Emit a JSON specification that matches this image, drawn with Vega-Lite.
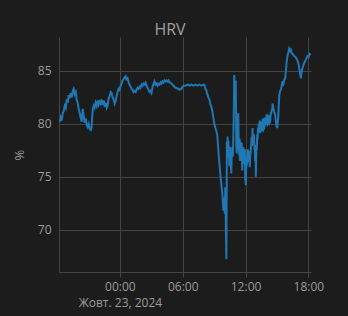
{
  "$schema": "https://vega.github.io/schema/vega-lite/v6.json",
  "autosize": {"type": "none"},
  "width": 252,
  "height": 235,
  "padding": {"left": 59, "top": 37, "right": 37, "bottom": 44},
  "background": "#1c1c1c",
  "title": {"text": "HRV", "font": "Open Sans", "fontSize": 16, "fontWeight": "normal", "color": "#a0a0a0", "anchor": "middle", "frame": "group", "dx": -15, "dy": 18, "offset": 4, "baseline": "alphabetic"},
  "config": {"view": {"stroke": null}, "font": "Open Sans"},
  "data": {"values": [
    {"t": "2024-10-22T18:15", "v": 80.2}, {"t": "2024-10-22T18:21", "v": 80.6}, {"t": "2024-10-22T18:27", "v": 80.3},
    {"t": "2024-10-22T18:32", "v": 81.0}, {"t": "2024-10-22T18:38", "v": 81.2}, {"t": "2024-10-22T18:44", "v": 81.7},
    {"t": "2024-10-22T18:50", "v": 81.5}, {"t": "2024-10-22T18:55", "v": 82.3}, {"t": "2024-10-22T19:01", "v": 82.0},
    {"t": "2024-10-22T19:07", "v": 82.7}, {"t": "2024-10-22T19:12", "v": 82.4}, {"t": "2024-10-22T19:18", "v": 82.9},
    {"t": "2024-10-22T19:24", "v": 82.5}, {"t": "2024-10-22T19:30", "v": 83.1}, {"t": "2024-10-22T19:35", "v": 83.3},
    {"t": "2024-10-22T19:41", "v": 82.8}, {"t": "2024-10-22T19:47", "v": 83.0}, {"t": "2024-10-22T19:52", "v": 82.3},
    {"t": "2024-10-22T19:58", "v": 82.0}, {"t": "2024-10-22T20:04", "v": 81.4}, {"t": "2024-10-22T20:10", "v": 81.0},
    {"t": "2024-10-22T20:15", "v": 80.6}, {"t": "2024-10-22T20:21", "v": 80.2}, {"t": "2024-10-22T20:27", "v": 81.4},
    {"t": "2024-10-22T20:33", "v": 80.7}, {"t": "2024-10-22T20:38", "v": 80.1}, {"t": "2024-10-22T20:44", "v": 80.5},
    {"t": "2024-10-22T20:50", "v": 79.9}, {"t": "2024-10-22T20:55", "v": 79.7}, {"t": "2024-10-22T21:01", "v": 80.0},
    {"t": "2024-10-22T21:07", "v": 79.5}, {"t": "2024-10-22T21:13", "v": 79.4}, {"t": "2024-10-22T21:18", "v": 79.7},
    {"t": "2024-10-22T21:24", "v": 81.4}, {"t": "2024-10-22T21:30", "v": 81.7}, {"t": "2024-10-22T21:35", "v": 81.5},
    {"t": "2024-10-22T21:41", "v": 82.0}, {"t": "2024-10-22T21:47", "v": 81.7}, {"t": "2024-10-22T21:53", "v": 82.2},
    {"t": "2024-10-22T21:58", "v": 81.8}, {"t": "2024-10-22T22:04", "v": 82.1}, {"t": "2024-10-22T22:10", "v": 81.9},
    {"t": "2024-10-22T22:15", "v": 82.3}, {"t": "2024-10-22T22:21", "v": 81.8}, {"t": "2024-10-22T22:27", "v": 82.2},
    {"t": "2024-10-22T22:33", "v": 81.6}, {"t": "2024-10-22T22:38", "v": 82.0}, {"t": "2024-10-22T22:44", "v": 81.5},
    {"t": "2024-10-22T22:50", "v": 81.7}, {"t": "2024-10-22T22:55", "v": 82.4}, {"t": "2024-10-22T23:01", "v": 82.6},
    {"t": "2024-10-22T23:07", "v": 83.0}, {"t": "2024-10-22T23:13", "v": 82.9}, {"t": "2024-10-22T23:18", "v": 82.5},
    {"t": "2024-10-22T23:24", "v": 82.3}, {"t": "2024-10-22T23:30", "v": 81.9}, {"t": "2024-10-22T23:35", "v": 82.1},
    {"t": "2024-10-22T23:41", "v": 82.6}, {"t": "2024-10-22T23:47", "v": 83.0}, {"t": "2024-10-22T23:53", "v": 83.3},
    {"t": "2024-10-22T23:58", "v": 83.2}, {"t": "2024-10-23T00:04", "v": 83.6}, {"t": "2024-10-23T00:10", "v": 83.8},
    {"t": "2024-10-23T00:15", "v": 84.1}, {"t": "2024-10-23T00:21", "v": 84.2}, {"t": "2024-10-23T00:27", "v": 84.4},
    {"t": "2024-10-23T00:33", "v": 84.5}, {"t": "2024-10-23T00:38", "v": 84.2}, {"t": "2024-10-23T00:44", "v": 84.3},
    {"t": "2024-10-23T00:50", "v": 83.9}, {"t": "2024-10-23T00:55", "v": 83.7}, {"t": "2024-10-23T01:01", "v": 83.5},
    {"t": "2024-10-23T01:07", "v": 83.3}, {"t": "2024-10-23T01:13", "v": 83.2}, {"t": "2024-10-23T01:18", "v": 83.0},
    {"t": "2024-10-23T01:24", "v": 83.1}, {"t": "2024-10-23T01:30", "v": 83.0}, {"t": "2024-10-23T01:35", "v": 83.2},
    {"t": "2024-10-23T01:41", "v": 83.4}, {"t": "2024-10-23T01:47", "v": 83.3}, {"t": "2024-10-23T01:53", "v": 83.5},
    {"t": "2024-10-23T01:58", "v": 83.4}, {"t": "2024-10-23T02:04", "v": 83.7}, {"t": "2024-10-23T02:10", "v": 83.6},
    {"t": "2024-10-23T02:15", "v": 83.8}, {"t": "2024-10-23T02:21", "v": 83.7}, {"t": "2024-10-23T02:27", "v": 83.9},
    {"t": "2024-10-23T02:33", "v": 83.6}, {"t": "2024-10-23T02:38", "v": 83.4}, {"t": "2024-10-23T02:44", "v": 83.2},
    {"t": "2024-10-23T02:50", "v": 83.0}, {"t": "2024-10-23T02:55", "v": 83.1}, {"t": "2024-10-23T03:01", "v": 82.9},
    {"t": "2024-10-23T03:07", "v": 83.5}, {"t": "2024-10-23T03:13", "v": 83.8}, {"t": "2024-10-23T03:18", "v": 84.0},
    {"t": "2024-10-23T03:24", "v": 83.7}, {"t": "2024-10-23T03:30", "v": 83.8}, {"t": "2024-10-23T03:35", "v": 83.6},
    {"t": "2024-10-23T03:41", "v": 83.8}, {"t": "2024-10-23T03:47", "v": 83.7}, {"t": "2024-10-23T03:53", "v": 83.9},
    {"t": "2024-10-23T03:58", "v": 83.8}, {"t": "2024-10-23T04:04", "v": 84.0}, {"t": "2024-10-23T04:10", "v": 83.9},
    {"t": "2024-10-23T04:15", "v": 84.1}, {"t": "2024-10-23T04:21", "v": 84.0}, {"t": "2024-10-23T04:27", "v": 84.1},
    {"t": "2024-10-23T04:33", "v": 84.0}, {"t": "2024-10-23T04:38", "v": 84.1}, {"t": "2024-10-23T04:44", "v": 83.9},
    {"t": "2024-10-23T04:50", "v": 83.9}, {"t": "2024-10-23T04:55", "v": 83.8}, {"t": "2024-10-23T05:01", "v": 83.7},
    {"t": "2024-10-23T05:07", "v": 83.6}, {"t": "2024-10-23T05:13", "v": 83.5}, {"t": "2024-10-23T05:18", "v": 83.4},
    {"t": "2024-10-23T05:24", "v": 83.4}, {"t": "2024-10-23T05:30", "v": 83.3}, {"t": "2024-10-23T05:35", "v": 83.3},
    {"t": "2024-10-23T05:41", "v": 83.2}, {"t": "2024-10-23T05:47", "v": 83.3}, {"t": "2024-10-23T05:53", "v": 83.3},
    {"t": "2024-10-23T05:58", "v": 83.5}, {"t": "2024-10-23T06:04", "v": 83.6}, {"t": "2024-10-23T06:10", "v": 83.6},
    {"t": "2024-10-23T06:15", "v": 83.6}, {"t": "2024-10-23T06:27", "v": 83.7}, {"t": "2024-10-23T06:38", "v": 83.6},
    {"t": "2024-10-23T06:50", "v": 83.7}, {"t": "2024-10-23T07:01", "v": 83.6}, {"t": "2024-10-23T07:13", "v": 83.7},
    {"t": "2024-10-23T07:24", "v": 83.6}, {"t": "2024-10-23T07:35", "v": 83.7}, {"t": "2024-10-23T07:47", "v": 83.6},
    {"t": "2024-10-23T07:58", "v": 83.7}, {"t": "2024-10-23T08:04", "v": 83.7}, {"t": "2024-10-23T08:10", "v": 83.3},
    {"t": "2024-10-23T08:15", "v": 83.2}, {"t": "2024-10-23T08:21", "v": 82.8}, {"t": "2024-10-23T08:27", "v": 82.5},
    {"t": "2024-10-23T08:33", "v": 82.3}, {"t": "2024-10-23T08:38", "v": 81.9}, {"t": "2024-10-23T08:44", "v": 81.6},
    {"t": "2024-10-23T08:50", "v": 81.2}, {"t": "2024-10-23T08:55", "v": 80.6}, {"t": "2024-10-23T09:01", "v": 80.0},
    {"t": "2024-10-23T09:07", "v": 79.6}, {"t": "2024-10-23T09:13", "v": 79.3}, {"t": "2024-10-23T09:18", "v": 78.9},
    {"t": "2024-10-23T09:24", "v": 77.5}, {"t": "2024-10-23T09:30", "v": 76.3}, {"t": "2024-10-23T09:35", "v": 75.3},
    {"t": "2024-10-23T09:41", "v": 74.3}, {"t": "2024-10-23T09:47", "v": 73.4}, {"t": "2024-10-23T09:53", "v": 71.8},
    {"t": "2024-10-23T09:58", "v": 73.0}, {"t": "2024-10-23T10:01", "v": 71.5}, {"t": "2024-10-23T10:04", "v": 74.0},
    {"t": "2024-10-23T10:07", "v": 70.5}, {"t": "2024-10-23T10:10", "v": 67.2}, {"t": "2024-10-23T10:13", "v": 78.3},
    {"t": "2024-10-23T10:15", "v": 77.0}, {"t": "2024-10-23T10:17", "v": 78.8}, {"t": "2024-10-23T10:19", "v": 76.8},
    {"t": "2024-10-23T10:21", "v": 78.4}, {"t": "2024-10-23T10:24", "v": 77.5}, {"t": "2024-10-23T10:27", "v": 76.0},
    {"t": "2024-10-23T10:30", "v": 77.8}, {"t": "2024-10-23T10:33", "v": 77.2}, {"t": "2024-10-23T10:36", "v": 76.2},
    {"t": "2024-10-23T10:38", "v": 75.3}, {"t": "2024-10-23T10:41", "v": 77.0}, {"t": "2024-10-23T10:44", "v": 77.8},
    {"t": "2024-10-23T10:47", "v": 76.9}, {"t": "2024-10-23T10:50", "v": 78.6}, {"t": "2024-10-23T10:53", "v": 81.5},
    {"t": "2024-10-23T10:55", "v": 84.6}, {"t": "2024-10-23T10:58", "v": 83.5}, {"t": "2024-10-23T11:01", "v": 83.0},
    {"t": "2024-10-23T11:04", "v": 84.1}, {"t": "2024-10-23T11:07", "v": 78.0}, {"t": "2024-10-23T11:10", "v": 77.2},
    {"t": "2024-10-23T11:13", "v": 80.7}, {"t": "2024-10-23T11:16", "v": 79.3}, {"t": "2024-10-23T11:18", "v": 81.0},
    {"t": "2024-10-23T11:21", "v": 78.0}, {"t": "2024-10-23T11:24", "v": 77.0}, {"t": "2024-10-23T11:26", "v": 78.6},
    {"t": "2024-10-23T11:28", "v": 76.5}, {"t": "2024-10-23T11:31", "v": 78.3}, {"t": "2024-10-23T11:33", "v": 78.0},
    {"t": "2024-10-23T11:35", "v": 77.0}, {"t": "2024-10-23T11:38", "v": 78.2}, {"t": "2024-10-23T11:41", "v": 75.6},
    {"t": "2024-10-23T11:44", "v": 77.0}, {"t": "2024-10-23T11:47", "v": 77.8}, {"t": "2024-10-23T11:50", "v": 76.2},
    {"t": "2024-10-23T11:53", "v": 76.8}, {"t": "2024-10-23T11:56", "v": 77.6}, {"t": "2024-10-23T11:58", "v": 75.0},
    {"t": "2024-10-23T12:02", "v": 74.2}, {"t": "2024-10-23T12:04", "v": 76.6}, {"t": "2024-10-23T12:07", "v": 76.0},
    {"t": "2024-10-23T12:10", "v": 77.2}, {"t": "2024-10-23T12:13", "v": 77.6}, {"t": "2024-10-23T12:16", "v": 76.4},
    {"t": "2024-10-23T12:18", "v": 76.5}, {"t": "2024-10-23T12:21", "v": 77.4}, {"t": "2024-10-23T12:24", "v": 75.9},
    {"t": "2024-10-23T12:27", "v": 77.0}, {"t": "2024-10-23T12:30", "v": 77.5}, {"t": "2024-10-23T12:33", "v": 78.2},
    {"t": "2024-10-23T12:35", "v": 78.8}, {"t": "2024-10-23T12:38", "v": 77.9}, {"t": "2024-10-23T12:40", "v": 79.6},
    {"t": "2024-10-23T12:42", "v": 78.6}, {"t": "2024-10-23T12:44", "v": 78.5}, {"t": "2024-10-23T12:47", "v": 79.0},
    {"t": "2024-10-23T12:50", "v": 78.1}, {"t": "2024-10-23T12:53", "v": 77.4}, {"t": "2024-10-23T12:55", "v": 76.5},
    {"t": "2024-10-23T12:57", "v": 77.8}, {"t": "2024-10-23T12:59", "v": 75.0}, {"t": "2024-10-23T13:02", "v": 78.0},
    {"t": "2024-10-23T13:04", "v": 77.5}, {"t": "2024-10-23T13:07", "v": 79.0}, {"t": "2024-10-23T13:09", "v": 78.5},
    {"t": "2024-10-23T13:11", "v": 79.6}, {"t": "2024-10-23T13:13", "v": 79.2}, {"t": "2024-10-23T13:16", "v": 80.0},
    {"t": "2024-10-23T13:18", "v": 79.7}, {"t": "2024-10-23T13:21", "v": 80.3}, {"t": "2024-10-23T13:24", "v": 79.1},
    {"t": "2024-10-23T13:27", "v": 80.2}, {"t": "2024-10-23T13:30", "v": 80.0}, {"t": "2024-10-23T13:32", "v": 79.4},
    {"t": "2024-10-23T13:35", "v": 79.3}, {"t": "2024-10-23T13:38", "v": 80.5}, {"t": "2024-10-23T13:41", "v": 80.2},
    {"t": "2024-10-23T13:44", "v": 79.5}, {"t": "2024-10-23T13:47", "v": 79.6}, {"t": "2024-10-23T13:50", "v": 80.6},
    {"t": "2024-10-23T13:53", "v": 80.4}, {"t": "2024-10-23T13:56", "v": 79.9}, {"t": "2024-10-23T13:58", "v": 80.0},
    {"t": "2024-10-23T14:01", "v": 80.9}, {"t": "2024-10-23T14:04", "v": 80.7}, {"t": "2024-10-23T14:07", "v": 80.0},
    {"t": "2024-10-23T14:10", "v": 80.1}, {"t": "2024-10-23T14:12", "v": 80.8}, {"t": "2024-10-23T14:15", "v": 80.6},
    {"t": "2024-10-23T14:18", "v": 80.1}, {"t": "2024-10-23T14:21", "v": 80.2}, {"t": "2024-10-23T14:24", "v": 81.0},
    {"t": "2024-10-23T14:27", "v": 81.0}, {"t": "2024-10-23T14:33", "v": 81.5}, {"t": "2024-10-23T14:35", "v": 81.9},
    {"t": "2024-10-23T14:41", "v": 81.3}, {"t": "2024-10-23T14:50", "v": 80.8}, {"t": "2024-10-23T14:55", "v": 80.0},
    {"t": "2024-10-23T15:01", "v": 79.6}, {"t": "2024-10-23T15:07", "v": 80.6}, {"t": "2024-10-23T15:13", "v": 82.7},
    {"t": "2024-10-23T15:18", "v": 83.1}, {"t": "2024-10-23T15:24", "v": 83.3}, {"t": "2024-10-23T15:31", "v": 84.0},
    {"t": "2024-10-23T15:35", "v": 83.6}, {"t": "2024-10-23T15:41", "v": 84.1}, {"t": "2024-10-23T15:47", "v": 84.3},
    {"t": "2024-10-23T15:51", "v": 84.9}, {"t": "2024-10-23T15:55", "v": 85.8}, {"t": "2024-10-23T16:01", "v": 86.5},
    {"t": "2024-10-23T16:06", "v": 86.8}, {"t": "2024-10-23T16:10", "v": 87.1}, {"t": "2024-10-23T16:15", "v": 86.9},
    {"t": "2024-10-23T16:19", "v": 87.0}, {"t": "2024-10-23T16:24", "v": 86.7}, {"t": "2024-10-23T16:30", "v": 86.6},
    {"t": "2024-10-23T16:38", "v": 86.4}, {"t": "2024-10-23T16:47", "v": 86.3}, {"t": "2024-10-23T16:57", "v": 86.0},
    {"t": "2024-10-23T17:04", "v": 85.6}, {"t": "2024-10-23T17:10", "v": 85.0}, {"t": "2024-10-23T17:17", "v": 84.3},
    {"t": "2024-10-23T17:21", "v": 84.9}, {"t": "2024-10-23T17:27", "v": 85.3}, {"t": "2024-10-23T17:35", "v": 85.7},
    {"t": "2024-10-23T17:44", "v": 86.0}, {"t": "2024-10-23T17:54", "v": 86.4}, {"t": "2024-10-23T18:01", "v": 86.3},
    {"t": "2024-10-23T18:07", "v": 86.6}, {"t": "2024-10-23T18:14", "v": 86.5}
  ]},
  "mark": {"type": "line", "color": "#1f77b4", "strokeWidth": 2, "clip": true},
  "encoding": {
    "x": {
      "field": "t", "type": "temporal",
      "scale": {"domain": [{"year": 2024, "month": 10, "date": 22, "hours": 18, "minutes": 11}, {"year": 2024, "month": 10, "date": 23, "hours": 18, "minutes": 15}], "nice": false},
      "axis": {
        "title": null,
        "values": [{"year": 2024, "month": 10, "date": 23, "hours": 0}, {"year": 2024, "month": 10, "date": 23, "hours": 6}, {"year": 2024, "month": 10, "date": 23, "hours": 12}, {"year": 2024, "month": 10, "date": 23, "hours": 18}],
        "labelExpr": "hours(datum.value) == 0 ? ['00:00', 'Жовт. 23, 2024'] : timeFormat(datum.value, '%H:%M')",
        "grid": true, "gridColor": "#444", "gridWidth": 1,
        "domain": true, "domainColor": "#444", "domainWidth": 1,
        "ticks": true, "tickColor": "#444", "tickSize": 5,
        "labelPadding": 4, "labelColor": "#9b9b9b", "labelFont": "Open Sans", "labelFontSize": 12,
        "labelLineHeight": 16, "labelOverlap": false, "labelFlush": false
      }
    },
    "y": {
      "field": "v", "type": "quantitative",
      "scale": {"domain": [66, 88.2], "nice": false, "zero": false},
      "axis": {
        "title": "%", "titleX": -40, "titleColor": "#9b9b9b", "titleFont": "Open Sans", "titleFontSize": 13, "titleFontWeight": "normal", "titleBaseline": "middle",
        "values": [70, 75, 80, 85],
        "grid": true, "gridColor": "#444", "gridWidth": 1,
        "domain": true, "domainColor": "#444",
        "ticks": false, "tickSize": 0,
        "labelPadding": 8, "labelColor": "#9b9b9b", "labelFont": "Open Sans", "labelFontSize": 12
      }
    }
  }
}
